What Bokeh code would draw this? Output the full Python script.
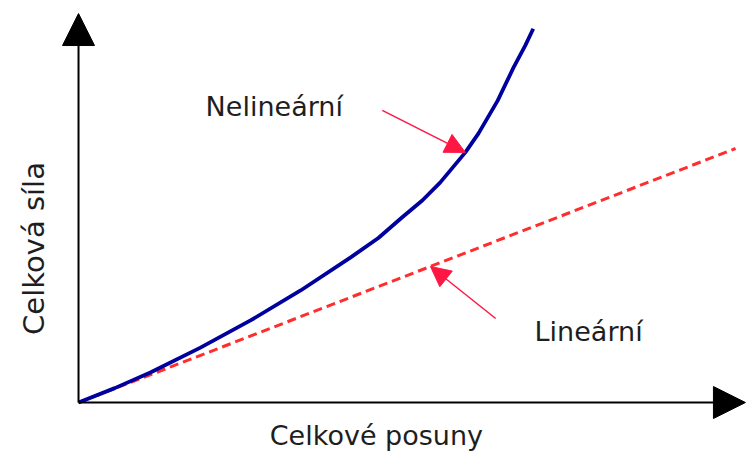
from bokeh.plotting import figure
from bokeh.models import Range1d, Arrow, NormalHead, Label
from bokeh.embed import file_html
from bokeh.resources import INLINE
import math

# ---- data (arbitrary units) ----
nonlin_disp = [0.0, 0.55, 1.09, 1.85, 2.61, 3.37, 4.13, 4.55, 4.89, 5.22, 5.49, 5.87, 6.07, 6.36, 6.60, 6.78, 6.90]
nonlin_force = [0.0, 0.37, 0.77, 1.41, 2.11, 2.88, 3.73, 4.23, 4.73, 5.20, 5.66, 6.43, 6.92, 7.76, 8.61, 9.18, 9.61]
lin_disp = [0.0, 9.97]
lin_force = [0.0, 6.53]

x_label = "Celkové posuny"
y_label = "Celková síla"
lbl_nonlin = "Nelineární"
lbl_lin = "Lineární"

FONT = "DejaVu Sans"
TXT = "#1e1e1e"
RED = "#ff1744"

p = figure(width=746, height=455,
           x_range=Range1d(-1.184, 10.136), y_range=Range1d(-1.362, 10.335),
           x_axis_type=None, y_axis_type=None,
           output_backend="svg", toolbar_location=None,
           min_border=0, outline_line_color=None)
p.grid.visible = False
p.background_fill_color = "white"

# axes as arrows
p.add_layout(Arrow(end=NormalHead(size=32, fill_color="black", line_color="black", line_width=1),
                   x_start=0, y_start=0, x_end=10.12, y_end=0,
                   line_color="black", line_width=2))
p.add_layout(Arrow(end=NormalHead(size=32, fill_color="black", line_color="black", line_width=1),
                   x_start=0, y_start=0, x_end=0, y_end=10.0,
                   line_color="black", line_width=2))

# series
p.line(lin_disp, lin_force, line_color="#ff2d2d", line_width=3, line_dash="9 5")
p.line(nonlin_disp, nonlin_force, line_color="#00009e", line_width=3.8, line_join="round")

# annotation arrows
p.add_layout(Arrow(end=NormalHead(size=20, fill_color=RED, line_color=RED, line_width=1),
                   x_start=4.61, y_start=7.51, x_end=nonlin_disp[11], y_end=nonlin_force[11],
                   line_color=RED, line_width=1.5))
p.add_layout(Arrow(end=NormalHead(size=20, fill_color=RED, line_color=RED, line_width=1),
                   x_start=6.33, y_start=2.16, x_end=5.34, y_end=5.34 * lin_force[1] / lin_disp[1],
                   line_color=RED, line_width=1.5))

# texts
p.add_layout(Label(x=2.97, y=7.62, text=lbl_nonlin, text_font=FONT, text_font_size="27px",
                   text_color=TXT, text_align="center", text_baseline="alphabetic"))
p.add_layout(Label(x=7.74, y=1.82, text=lbl_lin, text_font=FONT, text_font_size="27px",
                   text_color=TXT, text_align="center", text_baseline="alphabetic"))
p.add_layout(Label(x=4.52, y=-0.86, text=x_label, text_font=FONT, text_font_size="27px",
                   text_color=TXT, text_align="center", text_baseline="alphabetic"))
p.add_layout(Label(x=-0.68, y=3.96, text=y_label, text_font=FONT, text_font_size="29px",
                   text_color=TXT, text_align="center", text_baseline="alphabetic",
                   angle=math.pi / 2))

open("out.html", "w").write(file_html(p, INLINE))
